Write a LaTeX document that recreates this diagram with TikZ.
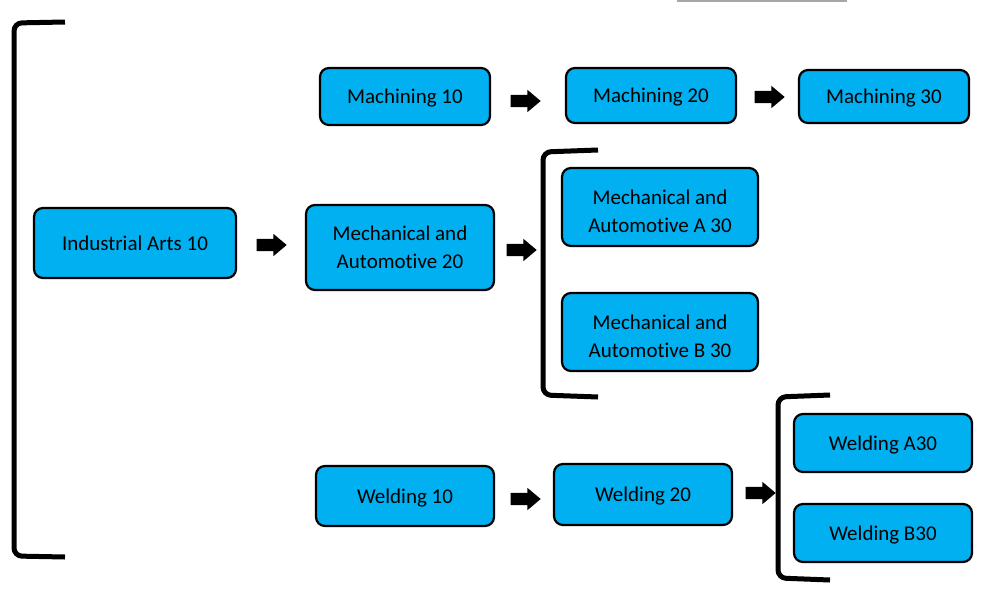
\documentclass[tikz,border=0pt]{standalone}
\usepackage{fontspec}
\setmainfont[Ligatures=NoCommon]{Carlito}
\usetikzlibrary{shapes.arrows,calc}
\definecolor{boxblue}{HTML}{00B0F0}
\tikzset{
  box/.style={draw=black, line width=2.2pt, rounded corners=9pt, fill=boxblue,
    align=center, inner sep=0pt, text depth=0pt, font=\fontsize{21}{28}\selectfont, text=black},
  twoline/.style={text height=51pt},
  blockarrow/.style={single arrow, fill=black, draw=none, inner xsep=0pt, inner ysep=6pt,
    single arrow head extend=5pt, single arrow tip angle=80, minimum height=30pt},
  bracket/.style={line width=5pt, rounded corners=8pt, draw=black},
}
\begin{document}
\begin{tikzpicture}[x=1pt,y=-1pt]
\useasboundingbox (0,0) rectangle (982,589);
\draw[gray!70, line width=2pt] (677,1) -- (847,1);
% boxes
\node[box, minimum width=202pt, minimum height=70pt] (ia) at (135,243) {Industrial Arts 10};
\node[box, minimum width=170pt, minimum height=57pt] (m10) at (405,96.5) {Machining 10};
\node[box, minimum width=170pt, minimum height=55pt] (m20) at (651,95.5) {Machining 20};
\node[box, minimum width=170pt, minimum height=53pt] (m30) at (884,96.5) {Machining 30};
\node[box, minimum width=188pt, minimum height=85pt] (ma20) at (400,247.5) {Mechanical and\\Automotive 20};
\node[box, twoline, minimum width=196pt, minimum height=78pt] (maa) at (660,207) {Mechanical and\\Automotive A 30};
\node[box, twoline, minimum width=196pt, minimum height=78pt] (mab) at (660,332) {Mechanical and\\Automotive B 30};
\node[box, minimum width=178pt, minimum height=60pt] (w10) at (405,496) {Welding 10};
\node[box, minimum width=178pt, minimum height=61pt] (w20) at (643,494.5) {Welding 20};
\node[box, minimum width=178pt, minimum height=58pt] (wa) at (883,443) {Welding A30};
\node[box, minimum width=178pt, minimum height=58pt] (wb) at (883,533) {Welding B30};
% arrows
\node[blockarrow] (a1) at (268,245) {};
\node[blockarrow] (a2) at (518,250) {};
\node[blockarrow] (a3) at (522,101) {};
\node[blockarrow] (a4) at (766,97) {};
\node[blockarrow] (a5) at (522,499) {};
\node[blockarrow] (a6) at (757,493) {};
% brackets
\draw[bracket] (65,22) -- (14,23) -- (14,556) -- (65,557);
\draw[bracket] (598,150) -- (543,152) -- (543,395) -- (598,397);
\draw[bracket] (830,395) -- (778,397) -- (778,578) -- (830,580);
\end{tikzpicture}
\end{document}
